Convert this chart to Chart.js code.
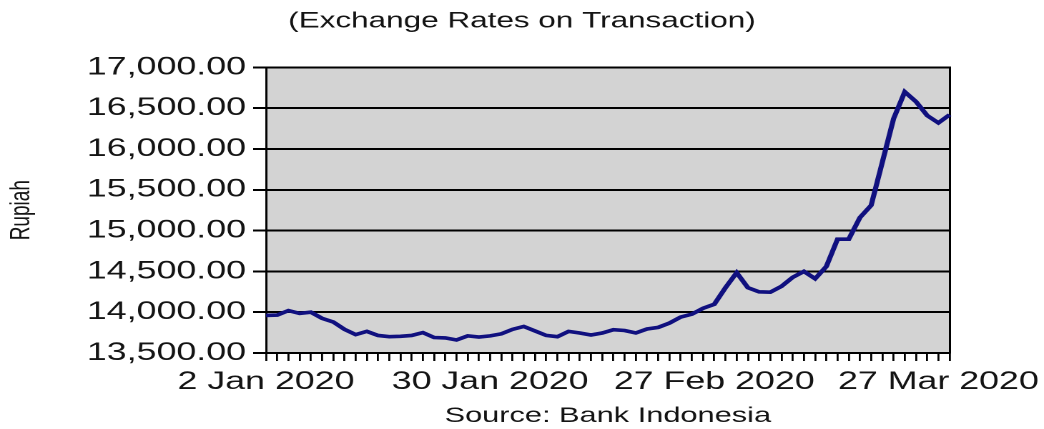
<!DOCTYPE html>
<html>
<head>
<meta charset="utf-8">
<script src="https://cdn.jsdelivr.net/npm/chart.js@4.4.1/dist/chart.umd.min.js"></script>
<style>
  html, body { margin: 0; padding: 0; background: #fff; overflow: hidden; }
  /* the source picture is stretched sideways, so draw narrow and stretch */
  #wrap { width: 730px; height: 429px; transform: scaleX(1.4301); transform-origin: 0 0; }
</style>
</head>
<body>
<div id="wrap"><canvas id="rate" width="730" height="429"></canvas></div>
<script>
// trading days, 2 Jan 2020 - 30 Mar 2020
var dates = [
  '2 Jan 2020','3 Jan 2020','6 Jan 2020','7 Jan 2020','8 Jan 2020','9 Jan 2020','10 Jan 2020',
  '13 Jan 2020','14 Jan 2020','15 Jan 2020','16 Jan 2020','17 Jan 2020','20 Jan 2020','21 Jan 2020',
  '22 Jan 2020','23 Jan 2020','24 Jan 2020','27 Jan 2020','28 Jan 2020','29 Jan 2020','30 Jan 2020',
  '31 Jan 2020','3 Feb 2020','4 Feb 2020','5 Feb 2020','6 Feb 2020','7 Feb 2020','10 Feb 2020',
  '11 Feb 2020','12 Feb 2020','13 Feb 2020','14 Feb 2020','17 Feb 2020','18 Feb 2020','19 Feb 2020',
  '20 Feb 2020','21 Feb 2020','24 Feb 2020','25 Feb 2020','26 Feb 2020','27 Feb 2020','28 Feb 2020',
  '2 Mar 2020','3 Mar 2020','4 Mar 2020','5 Mar 2020','6 Mar 2020','9 Mar 2020','10 Mar 2020',
  '11 Mar 2020','12 Mar 2020','13 Mar 2020','16 Mar 2020','17 Mar 2020','18 Mar 2020','19 Mar 2020',
  '20 Mar 2020','23 Mar 2020','24 Mar 2020','26 Mar 2020','27 Mar 2020','30 Mar 2020'
];
var rupiah = [
  13960, 13965, 14020, 13985, 14000, 13925, 13880, 13790, 13725, 13765,
  13715, 13700, 13705, 13715, 13750, 13690, 13685, 13660, 13710, 13695,
  13710, 13735, 13790, 13825, 13770, 13715, 13700, 13765, 13745, 13720,
  13745, 13786, 13776, 13746, 13794, 13814, 13867, 13940, 13976, 14048,
  14097, 14300, 14485, 14300, 14250, 14245, 14317, 14427, 14500, 14410,
  14560, 14895, 14895, 15160, 15310, 15840, 16370, 16700, 16580, 16410,
  16320, 16420
];
var shownDates = ['2 Jan 2020', '30 Jan 2020', '27 Feb 2020', '27 Mar 2020'];
var yMin = 13500, yMax = 17000, yStep = 500;

var font = "'Liberation Sans', Arial, sans-serif";
var ink = '#141414';

var plotBack = {
  id: 'plotBack',
  beforeDraw: function(chart){
    var a = chart.chartArea, c = chart.ctx;
    c.save();
    c.fillStyle = '#d3d3d3';
    c.fillRect(a.left, a.top, a.right - a.left, a.bottom - a.top);
    c.restore();
  }
};

new Chart(document.getElementById('rate'), {
  type: 'line',
  data: {
    labels: dates,
    datasets: [{
      label: 'Rupiah',
      data: rupiah,
      borderColor: '#10107f',
      borderWidth: 3.6,
      pointRadius: 0,
      tension: 0,
      fill: false
    }]
  },
  plugins: [plotBack],
  options: {
    responsive: false,
    animation: false,
    devicePixelRatio: 2,
    layout: { padding: 0 },
    plugins: {
      legend: { display: false },
      tooltip: { enabled: false },
      title: {
        display: true,
        text: '(Exchange Rates on Transaction)',
        color: ink,
        font: { family: font, size: 22, weight: 'normal' },
        padding: { top: 8, bottom: 33 }
      }
    },
    scales: {
      x: {
        offset: false,
        grid: { drawOnChartArea: false, drawTicks: true, tickLength: 8, color: '#000', lineWidth: 1.4 },
        border: { display: true, color: '#000', width: 2 },
        ticks: {
          autoSkip: false, maxRotation: 0, padding: 6, color: ink,
          font: { family: font, size: 25 },
          callback: function(v){
            var l = this.getLabelForValue(v);
            return shownDates.indexOf(l) >= 0 ? l : '';
          }
        },
        title: {
          display: true, text: 'Source: Bank Indonesia', color: ink,
          font: { family: font, size: 21.5 }, padding: { top: 0, bottom: 0 }
        },
        afterFit: function(s){ s.height = 76; }
      },
      y: {
        min: yMin, max: yMax,
        grid: { color: '#000', lineWidth: 2, tickLength: 9 },
        border: { display: true, color: '#000', width: 1.5 },
        ticks: {
          stepSize: yStep, padding: 5, color: ink,
          font: { family: font, size: 25 },
          callback: function(v){
            return v.toLocaleString('en-US', { minimumFractionDigits: 2, maximumFractionDigits: 2 });
          }
        },
        title: {
          display: true, text: 'Rupiah', color: ink,
          font: { family: font, size: 19 }, padding: { top: 4, bottom: 0 }
        },
        afterFit: function(s){ s.width = 186; }
      },
      // empty right axis: only the right frame line, keeps the title centred on the page
      yRight: {
        position: 'right',
        min: yMin, max: yMax,
        grid: { display: false },
        border: { display: true, color: '#000', width: 1.5 },
        ticks: { display: false },
        afterFit: function(s){ s.width = 66; }
      }
    }
  }
});
</script>
</body>
</html>
